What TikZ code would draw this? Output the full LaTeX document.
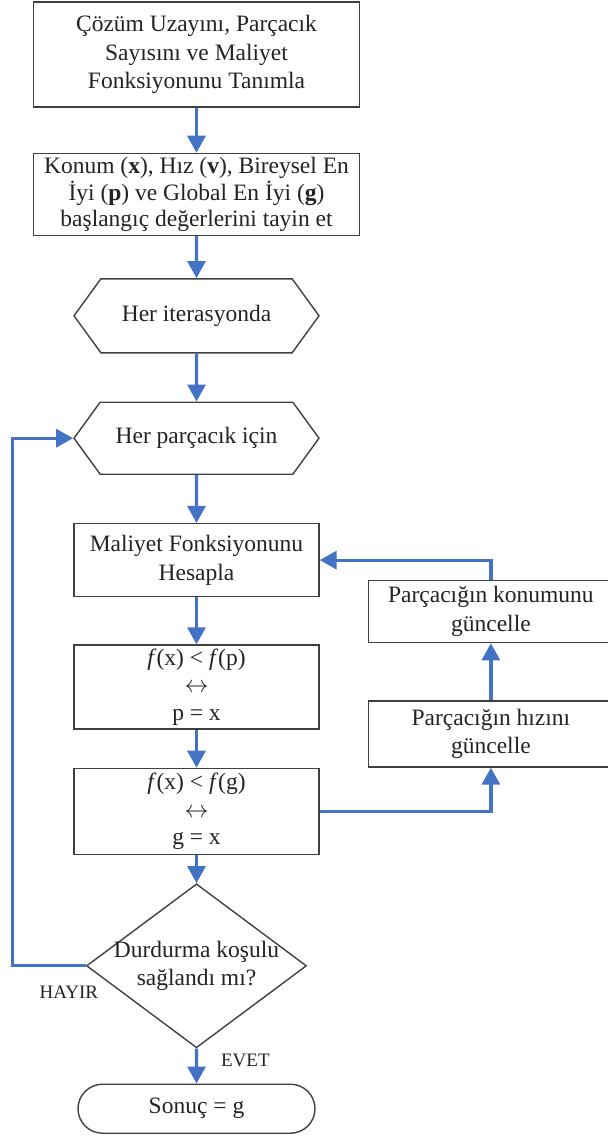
\documentclass[tikz,border=0pt]{standalone}
\usepackage{fontspec}
\setmainfont{Liberation Serif}
\usepackage{tikz}
\usetikzlibrary{arrows.meta,shapes,positioning,calc}
\definecolor{flowblue}{RGB}{68,114,196}
\definecolor{boxgray}{RGB}{64,64,64}
\definecolor{txtgray}{RGB}{35,35,35}
\tikzset{
    flow/.style={-{Triangle[length=8.5pt, width=9pt]}, line width=1.6pt, flowblue},
    process/.style={draw=boxgray, line width=0.7pt, rectangle, align=center, inner xsep=2pt, inner ysep=0pt, text=txtgray, font=\fontsize{11.75}{14.25}\selectfont, minimum width=122.5pt},
    test/.style={process, font=\fontsize{11.75}{13.75}\selectfont},
    loopbox/.style={process, signal, signal to=east and west, signal pointer angle=108},
    decision/.style={process, diamond, shape aspect=1.34, inner xsep=-6pt, inner ysep=-2pt, minimum width=110pt, minimum height=82pt},
    terminal/.style={process, rounded rectangle, minimum height=24.5pt},
    answer/.style={inner sep=0pt, text=txtgray, font=\fontsize{9.5}{11}\selectfont}
}
\begin{document}
\begin{tikzpicture}[node distance=22pt]
\useasboundingbox (0,0) rectangle (304pt,-568.5pt);
\node[process, minimum width=163pt, minimum height=52.5pt] (define) at (98.25pt,-27.25pt) {Çözüm Uzayını, Parçacık\\Sayısını ve Maliyet\\Fonksiyonunu Tanımla};
\node[process, minimum width=163pt, minimum height=41pt, below=22.5pt of define, font=\fontsize{11.75}{13.25}\selectfont] (init) {Konum (\textbf{x}), Hız (\textbf{v}), Bireysel En\\İyi (\textbf{p}) ve Global En İyi (\textbf{g})\\başlangıç değerlerini tayin et};
\node[loopbox, minimum height=37pt, below=21pt of init] (iter) {Her iterasyonda};
\node[loopbox, minimum height=36pt, below=24pt of iter] (particle) {Her parçacık için};
\node[process, minimum height=36.5pt, below=24pt of particle] (cost) {Maliyet Fonksiyonunu\\Hesapla};
\node[test, minimum height=42pt, below=23.5pt of cost] (pbest) {\textit{f}(x) < \textit{f}(p)\\$\leftrightarrow$\\p = x};
\node[test, minimum height=43pt, below=19pt of pbest] (gbest) {\textit{f}(x) < \textit{f}(g)\\$\leftrightarrow$\\g = x};
\node[decision, below=14pt of gbest] (stop) {Durdurma koşulu\\sağlandı mı?};
\node[terminal, below=17.5pt of stop] (result) {Sonuç = g};
\node[process, minimum height=33pt, above right=0pt and 24pt of gbest] (velocity) {Parçacığın hızını\\güncelle};
\node[process, minimum height=31pt, above=28.5pt of velocity] (position) {Parçacığın konumunu\\güncelle};
\node[answer, below=10pt of stop.west, xshift=-8.5pt] (no) {HAYIR};

\draw[flow] (define) -- (init);
\draw[flow] (init) -- (iter);
\draw[flow] (iter) -- (particle);
\draw[flow] (particle) -- (cost);
\draw[flow] (cost) -- (pbest);
\draw[flow] (pbest) -- (gbest);
\draw[flow] (gbest) -- (stop);
\draw[flow] (stop) -- node[answer, pos=0.35, right=11.5pt] (yes) {EVET} (result);
\draw[flow] (stop.west) -| ([xshift=-30.5pt]particle.west) -- (particle.west);
\draw[flow] (gbest.east) -| (velocity.south);
\draw[flow] (velocity) -- (position);
\draw[flow] (position.north) |- (cost.east);
\end{tikzpicture}
\end{document}
